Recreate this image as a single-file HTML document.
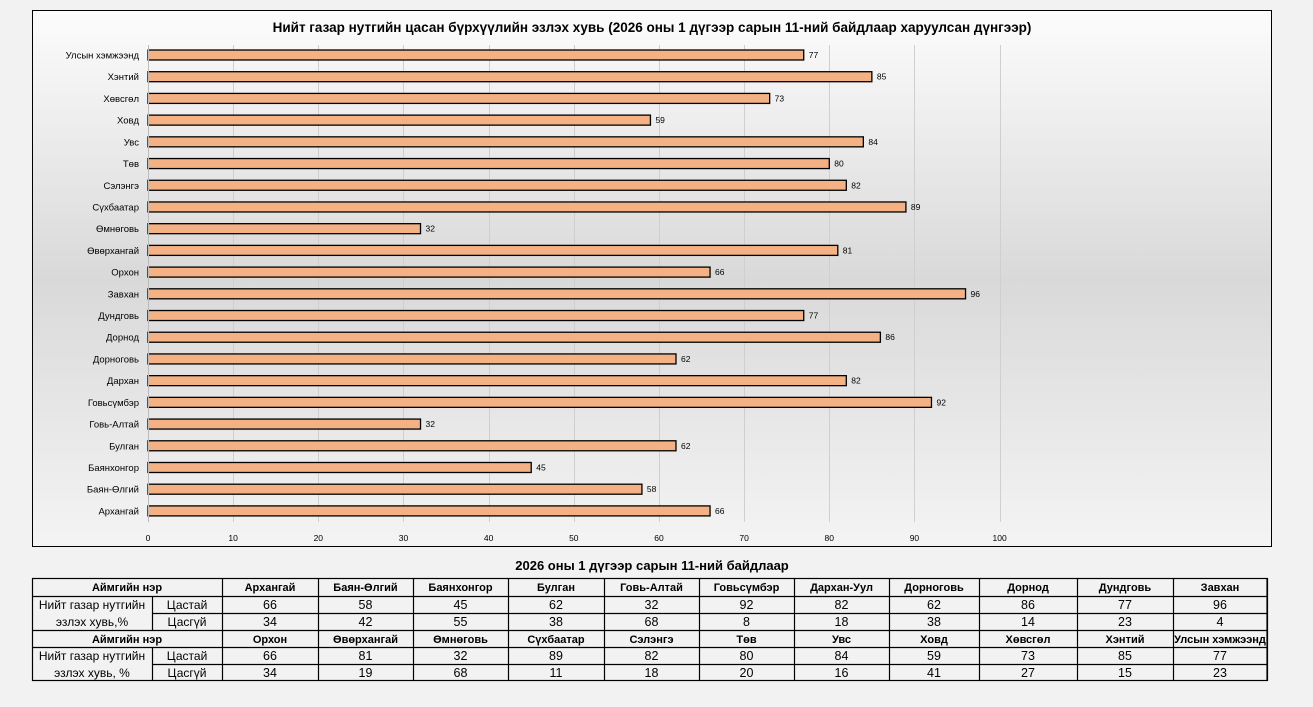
<!DOCTYPE html>
<html><head><meta charset="utf-8"><style>
body{margin:0;width:1313px;height:707px;background:#f2f2f2;overflow:hidden;font-family:"Liberation Sans","DejaVu Sans",sans-serif}
</style></head><body>
<svg width="1313" height="707" xmlns="http://www.w3.org/2000/svg" style="position:absolute;left:0;top:0;font-family:'Liberation Sans','DejaVu Sans',sans-serif">
<defs><linearGradient id="g" x1="0" y1="0" x2="0" y2="1">
<stop offset="0" stop-color="#fcfcfc"/><stop offset="0.5" stop-color="#d9d9d9"/><stop offset="1" stop-color="#f4f4f4"/></linearGradient></defs>
<rect x="32.5" y="10.5" width="1239" height="536" fill="url(#g)" stroke="#000" stroke-width="1"/>
<text x="652" y="32" text-anchor="middle" font-size="13.5" font-weight="bold" fill="#000">Нийт газар нутгийн цасан бүрхүүлийн эзлэх хувь (2026 оны 1 дүгээр сарын 11-ний байдлаар харуулсан дүнгээр)</text>
<g id="grid" stroke="#cfcfcf" stroke-width="1"></g>
<g id="bars"></g>
<text x="652" y="570" text-anchor="middle" font-size="13" font-weight="bold">2026 оны 1 дүгээр сарын 11-ний байдлаар</text>
<g id="tbl" font-size="11.5"></g>
</svg>
<script>
const NS="http://www.w3.org/2000/svg";
function el(p,t,a,txt){const e=document.createElementNS(NS,t);for(const k in a)e.setAttribute(k,a[k]);if(txt!==undefined)e.textContent=txt;p.appendChild(e);return e;}
const svg=document.querySelector('svg');
const x0=148,s=8.516;
const grid=document.getElementById('grid');
for(let i=0;i<=10;i++){const x=Math.round(x0+i*10*s)+0.5;el(grid,'line',{x1:x,y1:45,x2:x,y2:522});el(svg,'text',{x:x0+i*10*s,y:541,'text-anchor':'middle','font-size':'8.5',fill:'#000'},String(i*10));}
const data=[["Улсын хэмжээнд",77],["Хэнтий",85],["Хөвсгөл",73],["Ховд",59],["Увс",84],["Төв",80],["Сэлэнгэ",82],["Сүхбаатар",89],["Өмнөговь",32],["Өвөрхангай",81],["Орхон",66],["Завхан",96],["Дундговь",77],["Дорнод",86],["Дорноговь",62],["Дархан",82],["Говьсүмбэр",92],["Говь-Алтай",32],["Булган",62],["Баянхонгор",45],["Баян-Өлгий",58],["Архангай",66]];
const bars=document.getElementById('bars');
data.forEach((d,i)=>{const c=55+i*21.71;
el(bars,'rect',{x:x0,y:c-5,width:d[1]*s,height:10,fill:'#f4b183',stroke:'#000','stroke-width':1.3});
el(bars,'text',{x:x0-9,y:c+3.5,'text-anchor':'end','font-size':'9.5'},d[0]);
el(bars,'text',{x:x0+d[1]*s+5,y:c+3,'font-size':'8.5'},String(d[1]));});
el(bars,'line',{x1:x0+0.5,y1:45,x2:x0+0.5,y2:522,stroke:'#bbb'});
const T=document.getElementById('tbl');
const cols=[222,318,413,508,604,699,794,889,979,1077,1173,1267];
const ys=[578,596,613,630,647,664,681];
const names1=["Архангай","Баян-Өлгий","Баянхонгор","Булган","Говь-Алтай","Говьсүмбэр","Дархан-Уул","Дорноговь","Дорнод","Дундговь","Завхан"];
const a1=[66,58,45,62,32,92,82,62,86,77,96];
const names2=["Орхон","Өвөрхангай","Өмнөговь","Сүхбаатар","Сэлэнгэ","Төв","Увс","Ховд","Хөвсгөл","Хэнтий","Улсын хэмжээнд"];
const a2=[66,81,32,89,82,80,84,59,73,85,77];
const L={stroke:'#000','stroke-width':1.2};
el(T,'rect',{x:32.5,y:578.5,width:1234.5,height:102,fill:'none',...L});
ys.forEach((y,k)=>{if(k>0&&k<6){const x1=(k==1||k==4)?32:(k==2||k==5)?152:32;el(T,'line',{x1:x1,y1:y+0.5,x2:1267,y2:y+0.5,...L});}});
cols.forEach(x=>el(T,'line',{x1:x+0.5,y1:578,x2:x+0.5,y2:681,...L}));
[[596,630],[647,681]].forEach(r=>el(T,'line',{x1:152.5,y1:r[0],x2:152.5,y2:r[1],...L}));
function rowText(y,arr,bold){arr.forEach((t,i)=>el(T,'text',{x:(cols[i]+cols[i+1])/2,y:y,'text-anchor':'middle','font-weight':bold?'bold':'normal','font-size':bold?'11':'12.5'},String(t)));}
[[0,names1,a1],[3,names2,a2]].forEach(([o,n,a])=>{
el(T,'text',{x:127,y:ys[o]+13,'text-anchor':'middle','font-weight':'bold','font-size':'11'},"Аймгийн нэр");
rowText(ys[o]+13,n,true);
rowText(ys[o+1]+13,a,false);
rowText(ys[o+2]+13,a.map(v=>100-v),false);
el(T,'text',{x:92,y:ys[o+1]+13,'text-anchor':'middle','font-size':'12'},"Нийт газар нутгийн");
el(T,'text',{x:92,y:ys[o+2]+13,'text-anchor':'middle','font-size':'12'},o?"эзлэх хувь, %":"эзлэх хувь,%");
el(T,'text',{x:187,y:ys[o+1]+13,'text-anchor':'middle','font-size':'12'},"Цастай");
el(T,'text',{x:187,y:ys[o+2]+13,'text-anchor':'middle','font-size':'12'},"Цасгүй");
});
</script>
</body></html>
